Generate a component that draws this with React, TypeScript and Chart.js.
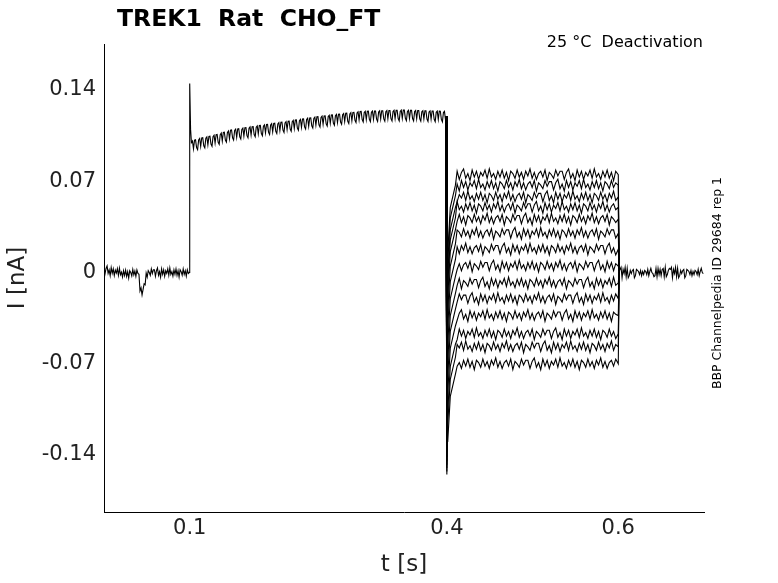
import React, { useEffect, useRef } from "react";
import { Chart, registerables } from "chart.js";
Chart.register(...registerables);

const baseline: [number, number][] = [
  [0, 0.002], [0.025, -0.001], [0.04, 0.0], [0.042, -0.012], [0.045, -0.015], [0.048, -0.008], [0.05, 0.0], [0.099, 0.0],
];
const rise: [number, number][] = [
  [0.1, 0.145], [0.101, 0.11], [0.102, 0.097], [0.11, 0.099], [0.13, 0.102], [0.15, 0.106], [0.2, 0.111],
  [0.25, 0.116], [0.3, 0.12], [0.35, 0.121], [0.399, 0.12],
];
const stepLevels = [0.075, 0.067, 0.058, 0.05, 0.041, 0.03, 0.018, 0.005, -0.008, -0.02, -0.033, -0.047, -0.057, -0.07];
const spikeMin = -0.155;
const noise = [0.003, -0.004, 0.002, 0.005, -0.003, 0.001, -0.005, 0.004, -0.002, 0.003, -0.004, 0.002, -0.001, 0.004, -0.003, 0.005, -0.002, 0.001, -0.004, 0.003, -0.002, 0.004, -0.003, 0.002, -0.005, 0.003, 0.001, -0.003, 0.004, -0.002, 0.002, -0.004, 0.003, -0.001, 0.005, -0.003, 0.002, -0.004, 0.001, 0.003, -0.002, 0.004, -0.005, 0.002, 0.0, -0.003, 0.004, -0.001, 0.003];
const xTicks = [0.1, 0.4, 0.6];
const yTicks = [-0.14, -0.07, 0, 0.07, 0.14];

function interp(seg: [number, number][], x: number) {
  for (let i = 1; i < seg.length; i++) {
    if (x <= seg[i][0]) {
      const [x0, y0] = seg[i - 1], [x1, y1] = seg[i];
      return y0 + ((y1 - y0) * (x - x0)) / (x1 - x0);
    }
  }
  return seg[seg.length - 1][1];
}

function buildTrace(level: number, k: number) {
  const pts: { x: number; y: number }[] = [];
  const dx = 0.0012;
  if (k === 0) {
    for (let i = 0; i * dx < 0.099; i++) { const x = i * dx; pts.push({ x, y: interp(baseline, x) + noise[i % noise.length] * 0.7 }); }
    pts.push({ x: 0.0995, y: 0 });
    pts.push({ x: 0.1, y: 0.145 });
    pts.push({ x: 0.101, y: 0.11 });
    for (let i = 0; 0.102 + i * dx < 0.399; i++) { const x = 0.102 + i * dx; pts.push({ x, y: interp(rise, x) + noise[(i * 7) % noise.length] * 0.9 }); }
  }
  pts.push({ x: 0.399, y: 0.12 });
  pts.push({ x: 0.4, y: spikeMin + (0.075 - level) * 0.3 });
  pts.push({ x: 0.401, y: level - 0.06 });
  pts.push({ x: 0.404, y: level - 0.025 });
  pts.push({ x: 0.41, y: level - 0.008 });
  for (let i = 0; 0.412 + i * 0.0025 < 0.599; i++) {
    const x = 0.412 + i * 0.0025;
    pts.push({ x, y: level + noise[(i + k * 5) % noise.length] * 0.9 });
  }
  pts.push({ x: 0.6, y: level });
  pts.push({ x: 0.601, y: 0.001 });
  if (k === 0) {
    for (let i = 0; 0.602 + i * dx < 0.7; i++) pts.push({ x: 0.602 + i * dx, y: noise[(i * 3) % noise.length] * 0.8 });
  }
  return pts;
}

export default function App() {
  const ref = useRef<HTMLCanvasElement>(null);
  useEffect(() => {
    document.body.style.margin = "0";
    const texts = {
      id: "texts",
      afterDraw(c: any) {
        const ctx = c.ctx;
        ctx.save();
        ctx.fillStyle = "#000";
        ctx.font = "bold 23.5px 'DejaVu Sans'";
        ctx.fillText("TREK1  Rat  CHO_FT", 117, 26);
        ctx.font = "16px 'DejaVu Sans'";
        ctx.textAlign = "right";
        ctx.fillText("25 °C  Deactivation", 703, 47);
        ctx.translate(721, 213);
        ctx.rotate(-Math.PI / 2);
        ctx.textAlign = "center";
        ctx.font = "12.5px 'DejaVu Sans'";
        ctx.fillText("BBP Channelpedia ID 29684 rep 1", -70, 0);
        ctx.restore();
      },
    };
    const chart = new Chart(ref.current!, {
      type: "line",
      data: {
        datasets: stepLevels.map((l, k) => ({
          data: buildTrace(l, k),
          borderColor: "#000",
          borderWidth: 1.1,
          pointRadius: 0,
          tension: 0,
        })),
      },
      options: {
        animation: false,
        responsive: false,
        layout: { padding: { top: 44, right: 74, left: 0, bottom: 0 } },
        plugins: { legend: { display: false }, tooltip: { enabled: false } },
        scales: {
          x: {
            type: "linear", min: 0, max: 0.7,
            afterBuildTicks: (s: any) => { s.ticks = xTicks.map((v) => ({ value: v })); },
            afterFit: (s: any) => { s.height = 71; },
            grid: { display: false, tickLength: -6 },
            border: { color: "#000" },
            ticks: { color: "#222", font: { size: 21, family: "DejaVu Sans" }, padding: 10, callback: (v: any) => String(v) },
            title: { display: true, text: "t [s]", color: "#222", font: { size: 23, family: "DejaVu Sans" }, padding: { top: 0 } },
          },
          y: {
            min: -0.1837, max: 0.1753,
            afterBuildTicks: (s: any) => { s.ticks = yTicks.map((v) => ({ value: v })); },
            afterFit: (s: any) => { s.width = 104; },
            grid: { display: false, tickLength: -6 },
            border: { color: "#000" },
            ticks: { color: "#222", font: { size: 21, family: "DejaVu Sans" }, padding: 14, callback: (v: any) => String(v) },
            title: { display: true, text: "I [nA]", color: "#222", font: { size: 23, family: "DejaVu Sans" }, padding: { bottom: 0 } },
          },
        },
      },
      plugins: [texts],
    } as any);
    return () => chart.destroy();
  }, []);
  return <canvas ref={ref} width={778} height={583} style={{ display: "block" }} />;
}
